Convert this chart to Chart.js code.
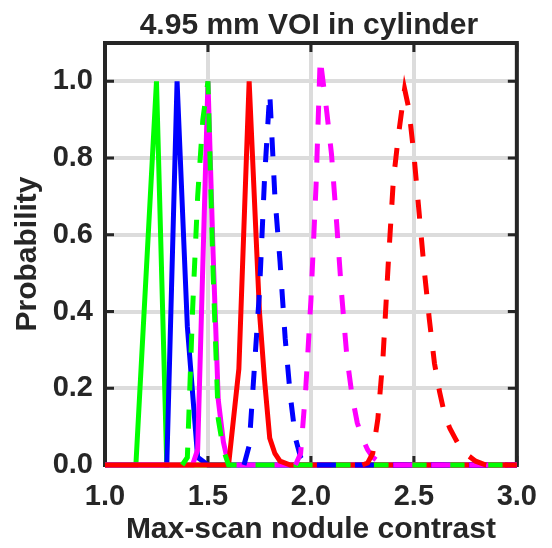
<!DOCTYPE html>
<html>
<head>
<meta charset="utf-8">
<script src="https://cdn.jsdelivr.net/npm/chart.js@4.4.0/dist/chart.umd.min.js"></script>
<style>
    html, body { margin: 0; padding: 0; background: #ffffff; }
    #wrap { width: 552px; height: 548px; }
</style>
</head>
<body>
<div id="wrap"><canvas id="chart" width="552" height="548"></canvas></div>
<script>
    "use strict";

    // Axis ticks
    const xTicks = [1.0, 1.5, 2.0, 2.5, 3.0];
    const yTicks = [0, 0.2, 0.4, 0.6, 0.8, 1.0];

    // Solid curves
    const greenSolidX = [1.0, 1.15, 1.25, 1.30, 3.0];
    const greenSolidY = [0, 0, 1.0, 0, 0];
    const blueSolidX = [1.0, 1.30, 1.35, 1.40, 1.45, 1.50, 3.0];
    const blueSolidY = [0, 0, 1.0, 0.36, 0.02, 0, 0];
    const magentaSolidX = [1.0, 1.425, 1.45, 1.475, 1.50, 1.525, 1.55, 1.575, 1.60, 3.0];
    const magentaSolidY = [0, 0, 0.04, 0.52, 1.0, 0.55, 0.17, 0.06, 0, 0];
    const redSolidX = [1.0, 1.60, 1.65, 1.70, 1.75, 1.775, 1.80, 1.825, 1.85, 1.90, 3.0];
    const redSolidY = [0, 0, 0.25, 1.0, 0.40, 0.22, 0.07, 0.03, 0.01, 0, 0];

    // Dashed curves
    const greenDashX = [1.375, 1.40, 1.425, 1.45, 1.475, 1.50, 1.525, 1.55, 1.575, 1.60, 3.0];
    const greenDashY = [0, 0.02, 0.40, 0.70, 0.90, 1.0, 0.50, 0.12, 0.04, 0, 0];
    const blueDashX = [1.675, 1.70, 1.725, 1.75, 1.775, 1.80, 1.825, 1.85, 1.875, 1.90, 1.925, 1.95, 1.975, 3.0];
    const blueDashY = [0, 0.05, 0.25, 0.45, 0.75, 0.97, 0.70, 0.53, 0.33, 0.18, 0.07, 0.02, 0, 0];
    const magentaDashX = [1.925, 1.95, 1.975, 2.0, 2.025, 2.045, 2.075, 2.10, 2.125, 2.15, 2.175, 2.20, 2.225, 2.25, 2.275, 2.30, 2.35, 3.0];
    const magentaDashY = [0, 0.03, 0.20, 0.43, 0.73, 1.06, 0.93, 0.81, 0.63, 0.44, 0.28, 0.18, 0.11, 0.07, 0.04, 0.02, 0, 0];
    const redDashX = [2.25, 2.275, 2.30, 2.325, 2.35, 2.375, 2.40, 2.425, 2.455, 2.475, 2.50, 2.525, 2.55, 2.575, 2.60, 2.625, 2.65, 2.675, 2.70, 2.725, 2.75, 2.80, 2.85, 3.0];
    const redDashY = [0, 0.005, 0.03, 0.12, 0.28, 0.52, 0.74, 0.86, 0.98, 0.93, 0.81, 0.66, 0.51, 0.38, 0.265, 0.19, 0.13, 0.095, 0.07, 0.045, 0.03, 0.01, 0, 0];

    const titleText = '4.95 mm VOI in cylinder';
    const ink = '#262626';
    const fontFamily = "'Liberation Sans', Arial, Helvetica, sans-serif";

    function toPoints(xs, ys) {
        return xs.map(function (x, i) { return { x: x, y: ys[i] }; });
    }

    // plotted in this order, later ones on top
    const series = [
        { x: greenSolidX, y: greenSolidY, color: '#00ff00', dash: [] },
        { x: blueSolidX, y: blueSolidY, color: '#0000ff', dash: [] },
        { x: magentaSolidX, y: magentaSolidY, color: '#ff00ff', dash: [] },
        { x: redSolidX, y: redSolidY, color: '#ff0000', dash: [] },
        { x: greenDashX, y: greenDashY, color: '#00ff00', dash: [19, 19] },
        { x: blueDashX, y: blueDashY, color: '#0000ff', dash: [19, 19] },
        { x: magentaDashX, y: magentaDashY, color: '#ff00ff', dash: [19, 19] },
        { x: redDashX, y: redDashY, color: '#ff0000', dash: [19, 19] }
    ];

    const datasets = series.map(function (s, i) {
        return {
            data: toPoints(s.x, s.y),
            borderColor: s.color,
            borderWidth: 5,
            borderDash: s.dash,
            borderJoinStyle: 'miter',
            borderCapStyle: 'butt',
            pointRadius: 0,
            tension: 0,
            fill: false,
            clip: 8,
            order: series.length - i
        };
    });

    // Box around the axes with inward tick marks, plus the title
    const framePlugin = {
        id: 'frame',
        beforeDatasetsDraw: function (chart) {
            const ctx = chart.ctx;
            const a = chart.chartArea;
            const xs = chart.scales.x, ys = chart.scales.y;
            const len = 9;
            ctx.save();
            ctx.strokeStyle = ink;
            ctx.lineWidth = 4;
            ctx.strokeRect(a.left, a.top, a.right - a.left, a.bottom - a.top);
            ctx.lineWidth = 3;
            ctx.beginPath();
            xTicks.forEach(function (v) {
                const px = xs.getPixelForValue(v);
                ctx.moveTo(px, a.bottom); ctx.lineTo(px, a.bottom - len);
                ctx.moveTo(px, a.top); ctx.lineTo(px, a.top + len);
            });
            yTicks.forEach(function (v) {
                const py = ys.getPixelForValue(v);
                ctx.moveTo(a.left, py); ctx.lineTo(a.left + len, py);
                ctx.moveTo(a.right, py); ctx.lineTo(a.right - len, py);
            });
            ctx.stroke();

            ctx.fillStyle = ink;
            ctx.font = 'bold 30px ' + fontFamily;
            ctx.textAlign = 'center';
            ctx.textBaseline = 'alphabetic';
            ctx.fillText(titleText, (a.left + a.right) / 2 - 2, 34);
            ctx.restore();
        }
    };

    const ctx = document.getElementById('chart');
    const myChart = new Chart(ctx, {
        type: 'line',
        data: { datasets: datasets },
        options: {
            responsive: false,
            animation: false,
            devicePixelRatio: 1,
            layout: { padding: { left: 0, right: 29, top: 43, bottom: 0 } },
            plugins: {
                legend: { display: false },
                tooltip: { enabled: false },
                title: { display: false }
            },
            scales: {
                x: {
                    type: 'linear',
                    min: 1.0,
                    max: 3.0,
                    afterBuildTicks: function (s) { s.ticks = xTicks.map(function (v) { return { value: v }; }); },
                    afterFit: function (s) { s.height = 83; },
                    ticks: {
                        color: ink,
                        padding: 15,
                        maxRotation: 0,
                        font: { family: fontFamily, size: 29, weight: 'bold' },
                        callback: function (v) { return Number(v).toFixed(1); }
                    },
                    grid: { color: '#dcdcdc', lineWidth: 4, drawTicks: false },
                    border: { display: false },
                    title: {
                        display: true,
                        text: 'Max-scan nodule contrast',
                        color: ink,
                        font: { family: fontFamily, size: 30, weight: 'bold', lineHeight: 1.2 },
                        padding: { top: 0, bottom: 0 }
                    }
                },
                y: {
                    type: 'linear',
                    min: 0,
                    max: 1.1,
                    afterBuildTicks: function (s) { s.ticks = yTicks.map(function (v) { return { value: v }; }); },
                    afterFit: function (s) { s.width = 105; },
                    ticks: {
                        color: ink,
                        padding: 12,
                        font: { family: fontFamily, size: 29, weight: 'bold' },
                        callback: function (v) { return Number(v).toFixed(1); }
                    },
                    grid: { color: '#dcdcdc', lineWidth: 4, drawTicks: false },
                    border: { display: false },
                    title: {
                        display: true,
                        text: 'Probability',
                        color: ink,
                        font: { family: fontFamily, size: 30, weight: 'bold', lineHeight: 1.2 },
                        padding: { top: 10, bottom: 0 }
                    }
                }
            }
        },
        plugins: [framePlugin]
    });
</script>
</body>
</html>
